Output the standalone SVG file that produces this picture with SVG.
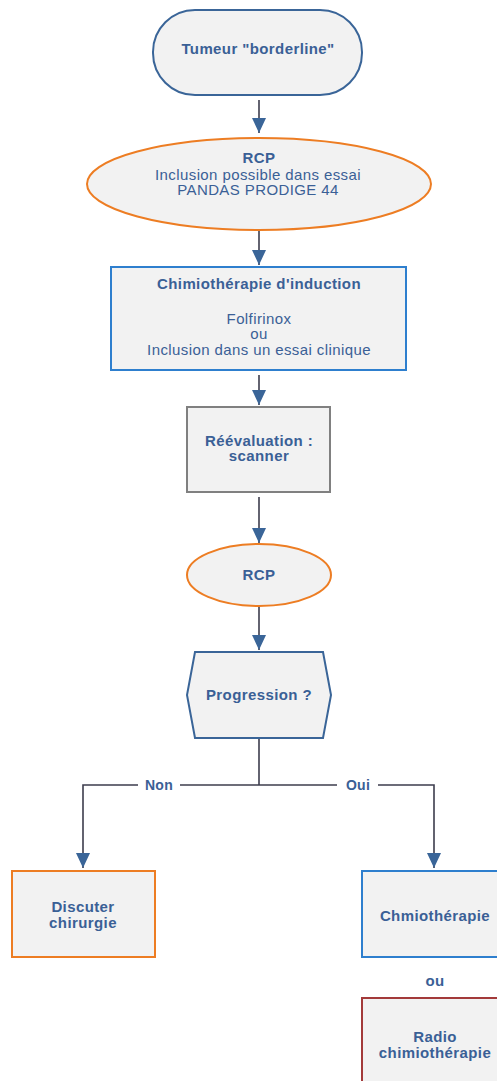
<svg xmlns="http://www.w3.org/2000/svg" width="497" height="1081" viewBox="0 0 497 1081">
  <style>
    .t { font-family: "Liberation Sans", Arial, sans-serif; font-size: 15px; letter-spacing: 0.4px; fill: #3a6096; text-anchor: middle; }
    .b { font-weight: bold; }
    .lbl { font-size: 14px; letter-spacing: 0.3px; }
    .node { fill: #f2f2f2; stroke-width: 2; }
    .line { fill: none; stroke: #3d3d4d; stroke-width: 1.6; }
  </style>
  <defs>
    <marker id="arrow" viewBox="0 0 15 14" refX="15" refY="7" markerWidth="15" markerHeight="14" markerUnits="userSpaceOnUse" orient="auto">
      <path d="M0,0 L15,7 L0,14 Z" fill="#3a6598"/>
    </marker>
  </defs>
  <rect width="497" height="1081" fill="#ffffff"/>

  <g id="connectors">
    <line class="line" x1="259" y1="100" x2="259" y2="133" marker-end="url(#arrow)"/>
    <line class="line" x1="259" y1="230" x2="259" y2="265" marker-end="url(#arrow)"/>
    <line class="line" x1="259" y1="375" x2="259" y2="405" marker-end="url(#arrow)"/>
    <line class="line" x1="259" y1="497" x2="259" y2="543" marker-end="url(#arrow)"/>
    <line class="line" x1="259" y1="607" x2="259" y2="650" marker-end="url(#arrow)"/>
    <line class="line" x1="259" y1="739" x2="259" y2="785"/>
    <path class="line" d="M138,785 H83 V868" marker-end="url(#arrow)"/>
    <path class="line" d="M180,785 H337"/>
    <path class="line" d="M378,785 H434 V868" marker-end="url(#arrow)"/>
    <text class="t b lbl" x="159" y="790">Non</text>
    <text class="t b lbl" x="358" y="790">Oui</text>
  </g>

  <g id="start">
    <rect class="node" x="153" y="10" width="209" height="85" rx="42" ry="42" stroke="#3a6598"/>
    <text class="t b" x="258" y="54">Tumeur "borderline"</text>
  </g>

  <g id="rcp1">
    <ellipse class="node" cx="259" cy="184" rx="172" ry="46" stroke="#ed7d23"/>
    <text class="t b" x="259" y="163">RCP</text>
    <text class="t" x="258" y="180">Inclusion possible dans essai</text>
    <text class="t" x="258" y="195">PANDAS PRODIGE 44</text>
  </g>

  <g id="induction">
    <rect class="node" x="111" y="267" width="295" height="103" stroke="#2e7fce"/>
    <text class="t b" x="259" y="289">Chimiothérapie d'induction</text>
    <text class="t" x="259" y="324">Folfirinox</text>
    <text class="t" x="259" y="339">ou</text>
    <text class="t" x="259" y="355">Inclusion dans un essai clinique</text>
  </g>

  <g id="reevaluation">
    <rect class="node" x="187" y="407" width="143" height="85" stroke="#808080"/>
    <text class="t b" x="259" y="446">Réévaluation :</text>
    <text class="t b" x="259" y="461">scanner</text>
  </g>

  <g id="rcp2">
    <ellipse class="node" cx="259" cy="575" rx="72" ry="31" stroke="#ed7d23"/>
    <text class="t b" x="259" y="580">RCP</text>
  </g>

  <g id="progression">
    <polygon class="node" points="195,652 323,652 331,695 323,738 195,738 187,695" stroke="#3a6598"/>
    <text class="t b" x="259" y="700">Progression ?</text>
  </g>

  <g id="chirurgie">
    <rect class="node" x="12" y="871" width="143" height="86" stroke="#ed7d23"/>
    <text class="t b" x="83" y="912">Discuter</text>
    <text class="t b" x="83" y="928">chirurgie</text>
  </g>

  <g id="chimio">
    <rect class="node" x="362" y="871" width="144" height="86" stroke="#2e7fce"/>
    <text class="t b" x="435" y="921">Chmiothérapie</text>
  </g>

  <text class="t b" x="435" y="986">ou</text>

  <g id="radiochimio">
    <rect class="node" x="362" y="998" width="144" height="86" stroke="#a33a3a"/>
    <text class="t b" x="435" y="1042">Radio</text>
    <text class="t b" x="435" y="1058">chimiothérapie</text>
  </g>
</svg>
